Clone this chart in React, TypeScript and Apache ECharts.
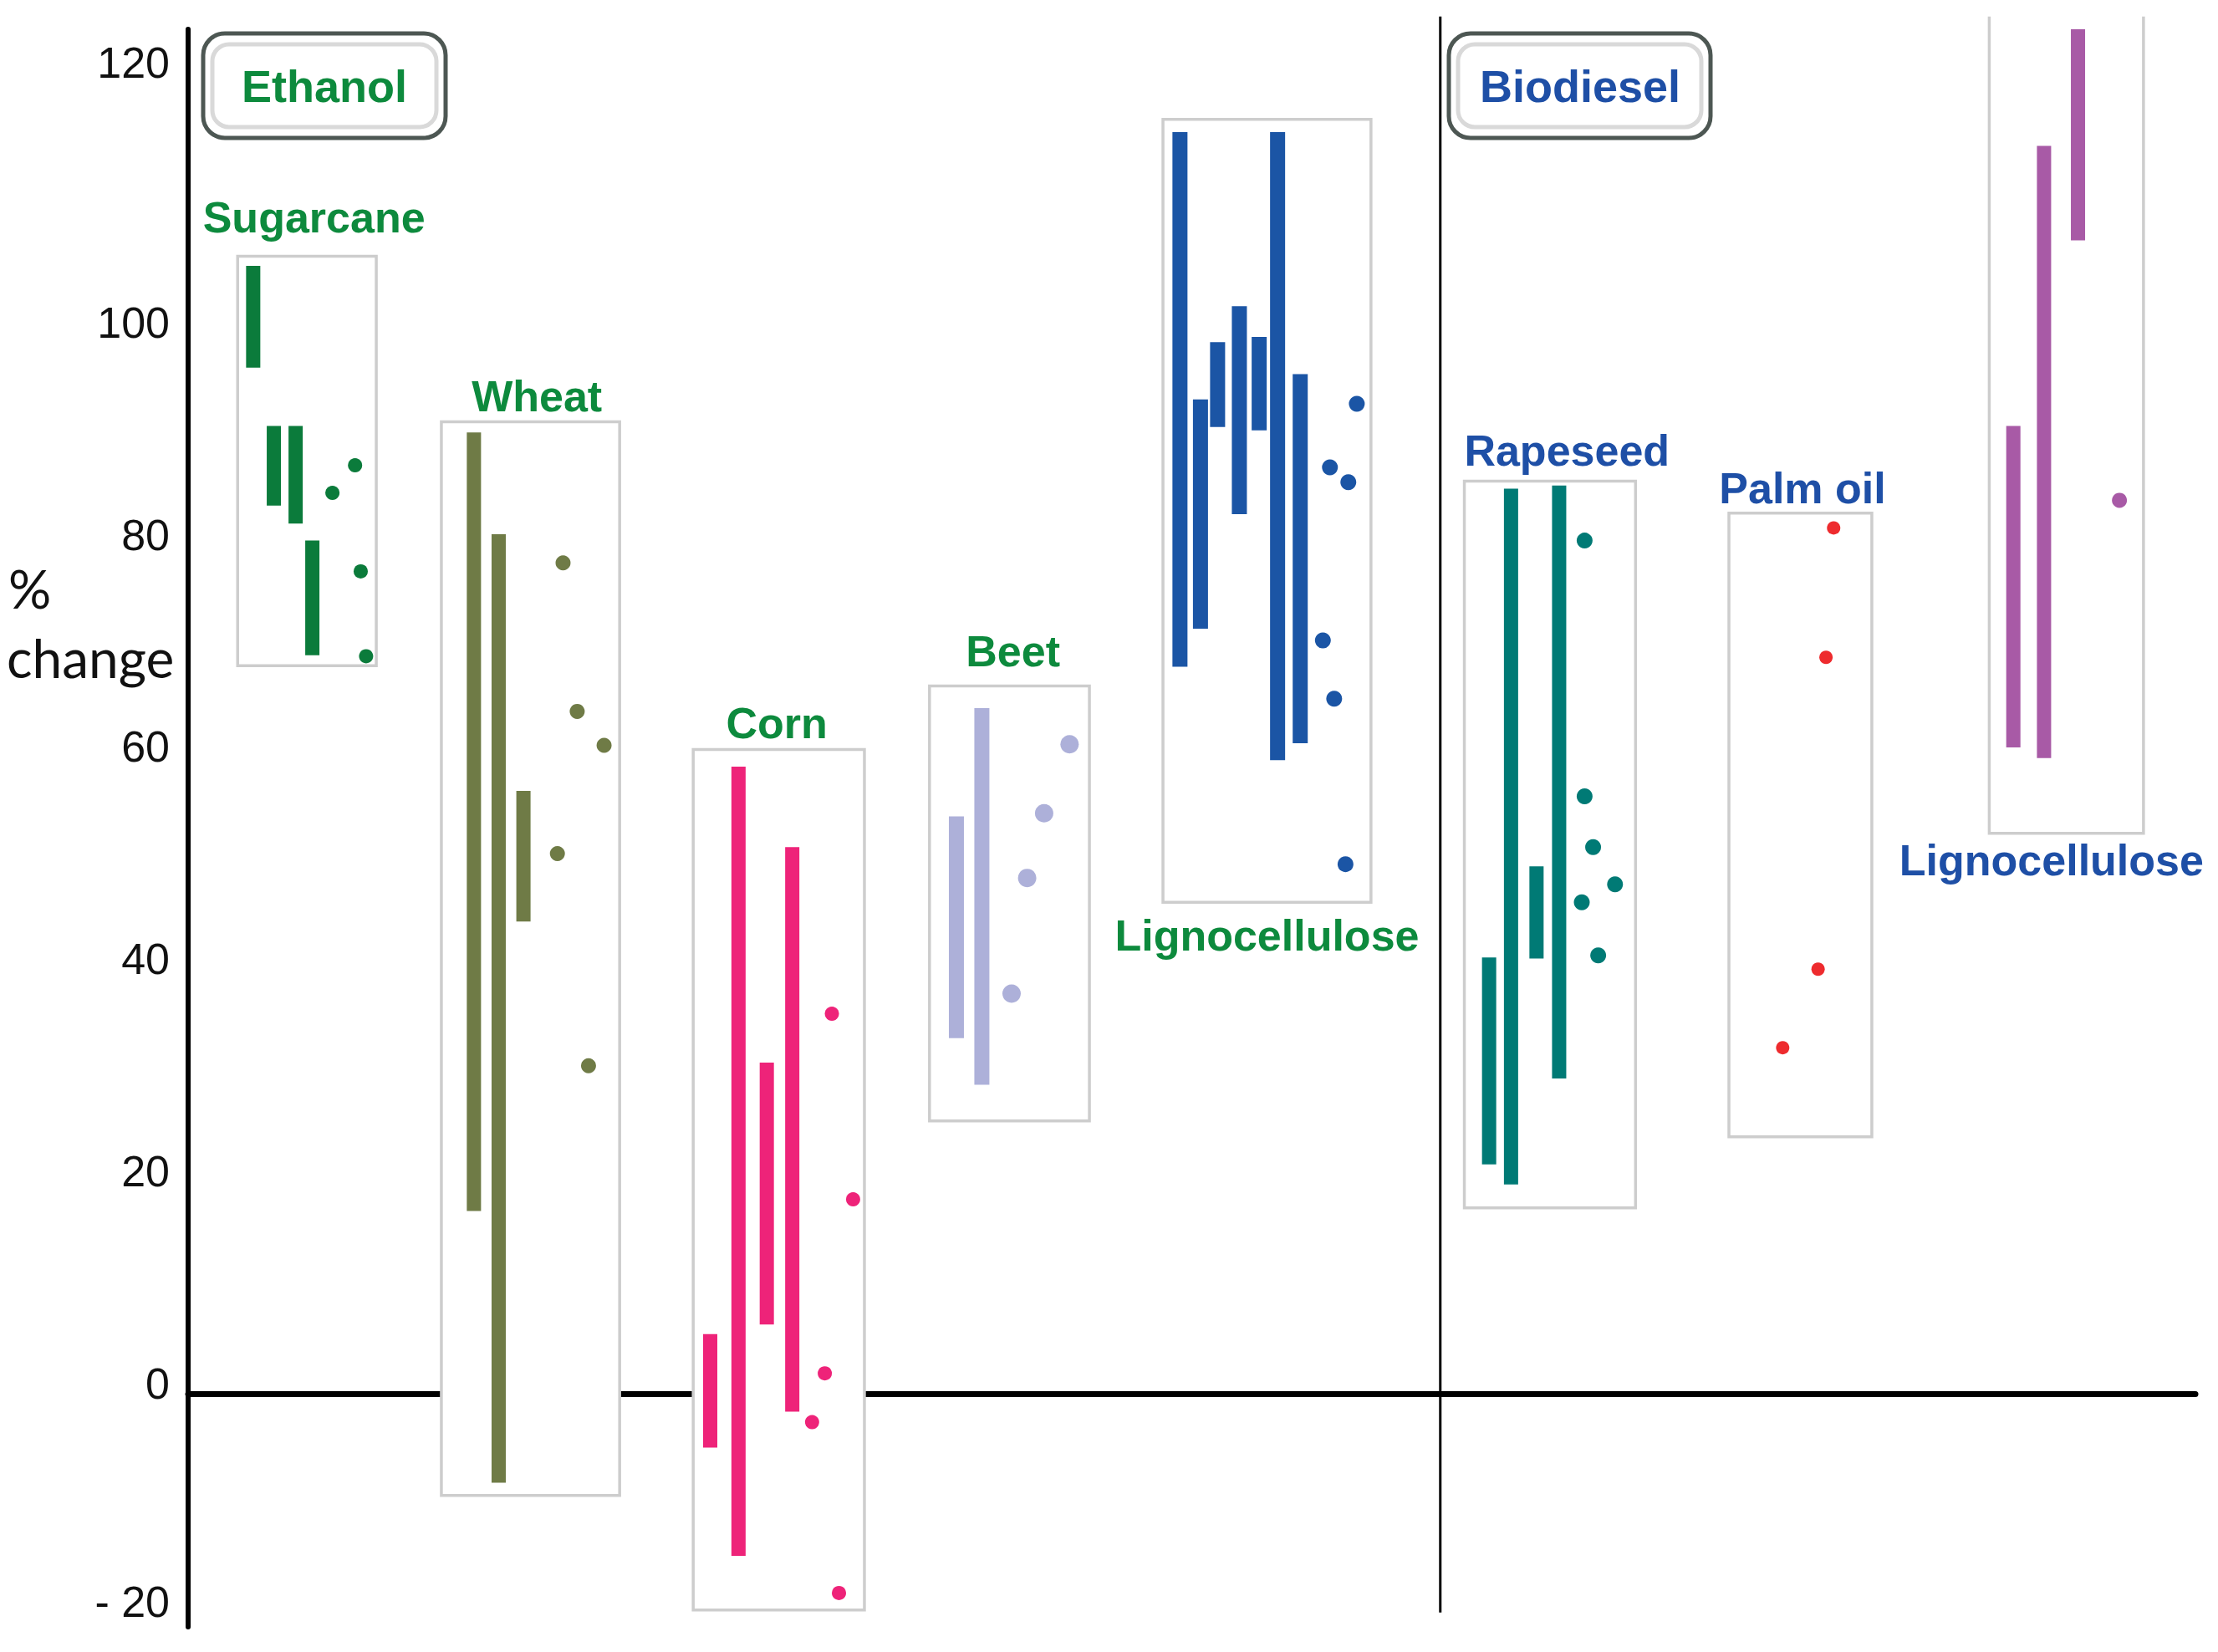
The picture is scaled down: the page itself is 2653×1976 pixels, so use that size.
import React, { useEffect, useRef } from "react";
import * as echarts from "echarts";

// ---------- data ----------
const Y_TICKS = [-20, 0, 20, 40, 60, 80, 100, 120];
const Y_TITLE = ["%", "change"];
const SECTION_TITLES = ["Ethanol", "Biodiesel"];

const GROUP_NAMES = ["Sugarcane", "Wheat", "Corn", "Beet", "Lignocellulose", "Rapeseed", "Palm oil", "Lignocellulose"];
const GROUP_FUEL = ["Ethanol", "Ethanol", "Ethanol", "Ethanol", "Ethanol", "Biodiesel", "Biodiesel", "Biodiesel"];

// ranges: [low, high] (% change)
const sugarcaneRanges = [[96.7, 106.3], [83.7, 91.2], [82, 91.2], [69.6, 80.4]];
const sugarcanePoints = [87.5, 84.9, 77.5, 69.5];

const wheatRanges = [[17.2, 90.6], [-8.4, 81], [44.5, 56.8]];
const wheatPoints = [78.3, 64.3, 61.1, 50.9, 30.9];

const cornRanges = [[-5.1, 5.6], [-15.3, 59.1], [6.5, 31.2], [-1.7, 51.5]];
const cornPoints = [35.8, 18.3, 1.9, -2.7, -18.8];

const beetRanges = [[33.5, 54.4], [29.1, 64.6]];
const beetPoints = [61.2, 54.7, 48.6, 37.7];

const lignoEthanolRanges = [[68.5, 118.9], [72.1, 93.7], [91.1, 99.1], [82.9, 102.5], [90.8, 99.6], [59.7, 118.9], [61.3, 96.1]];
const lignoEthanolPoints = [93.3, 87.3, 85.9, 71, 65.5, 49.9];

const rapeseedRanges = [[21.6, 41.1], [19.7, 85.3], [41, 49.7], [29.7, 85.6]];
const rapeseedPoints = [80.4, 56.3, 51.5, 48, 46.3, 41.3];

const palmOilRanges: number[][] = [];
const palmOilPoints = [81.6, 69.4, 40, 32.6];

const lignoBiodieselRanges = [[60.9, 91.2], [59.9, 117.6], [108.7, 128.6]];
const lignoBiodieselPoints = [84.2];

const GROUP_RANGES = [sugarcaneRanges, wheatRanges, cornRanges, beetRanges, lignoEthanolRanges, rapeseedRanges, palmOilRanges, lignoBiodieselRanges];
const GROUP_POINTS = [sugarcanePoints, wheatPoints, cornPoints, beetPoints, lignoEthanolPoints, rapeseedPoints, palmOilPoints, lignoBiodieselPoints];

// ---------- layout (x in horizontal units, y in axis units) ----------
const LAYOUT = [
  { barX: [179, 193.6, 209, 220.8], dotX: [251, 235, 255, 258.8], box: [168, 266, 68.6, 107.2], label: [222, 110.9], color: "#0B7B3B", barW: 17, dot: 17 },
  { barX: [335, 352.5, 370], dotX: [398, 408, 427, 394, 416], box: [312, 438, -9.6, 91.6], label: [379.5, 94.0], color: "#6F7B46", barW: 17, dot: 18 },
  { barX: [502, 522, 542, 560], dotX: [588, 603, 583, 574, 593], box: [490, 611, -20.4, 60.7], label: [549, 63.2], color: "#EE2379", barW: 17, dot: 17 },
  { barX: [676, 694], dotX: [756, 738, 726, 715], box: [657, 770, 25.7, 66.7], label: [716, 70], color: "#ADB0D9", barW: 18, dot: 22 },
  { barX: [834, 848.5, 860.6, 876, 890, 903, 919], dotX: [959, 940, 953, 935, 943, 951], box: [822, 969, 46.3, 120.1], label: [895.5, 43.2], color: "#1B55A5", barW: 18, dot: 19 },
  { barX: [1052.5, 1068, 1086, 1102], dotX: [1120, 1120, 1126, 1141.5, 1118, 1129.6], box: [1035, 1156, 17.5, 86], label: [1107.5, 88.9], color: "#007A75", barW: 17, dot: 19 },
  { barX: [], dotX: [1296, 1290.6, 1285, 1260], box: [1222, 1323, 24.2, 83], label: [1274, 85.3], color: "#EE2B2E", barW: 17, dot: 16 },
  { barX: [1423, 1444.7, 1468.7], dotX: [1498], box: [1406, 1515, 52.8, 129.8], label: [1450, 50.3], color: "#A85AA6", barW: 17, dot: 18 },
];
const OPEN_TOP_ABOVE = 128.6; // boxes reaching above the axis top are drawn without a top edge
const DIVIDER = [1018, -20.65, 129.8];
const LABEL_COLOR: Record<string, string> = { Ethanol: "#0D8A3D", Biodiesel: "#1E4FA6" };

const FONT_ARIAL = '"Liberation Sans", Arial, sans-serif';

export default function App() {
  const ref = useRef<HTMLDivElement>(null);
  useEffect(() => {
    if (!ref.current) return;
    const chart = echarts.init(ref.current, undefined, { renderer: "svg" });

    const boxData = LAYOUT.map((l, i) => ({
      name: GROUP_NAMES[i],
      value: [l.box[0], l.box[1], l.box[2], l.box[3], l.label[0], l.label[1], i],
    }));

    const barData: number[][] = [];
    GROUP_RANGES.forEach((ranges, g) => {
      ranges.forEach((r, k) => barData.push([LAYOUT[g].barX[k], r[0], r[1], g]));
    });

    const scatterSeries = GROUP_POINTS.map((pts, g) => ({
      type: "scatter",
      name: GROUP_NAMES[g] + " points",
      z: 5,
      clip: false,
      symbol: "circle",
      symbolSize: LAYOUT[g].dot,
      itemStyle: { color: LAYOUT[g].color, opacity: 1 },
      data: pts.map((v, k) => [LAYOUT[g].dotX[k], v]),
    }));

    const isTick = (v: number) => {
      const r = Math.round(v);
      return Math.abs(v - r) < 1e-6 && Y_TICKS.indexOf(r) >= 0;
    };

    const option: any = {
      animation: false,
      backgroundColor: "#ffffff",
      grid: { left: 225, right: 27, top: 35, bottom: 30, containLabel: false },
      xAxis: {
        type: "value",
        min: 133,
        max: 1551.7,
        axisLine: { show: true, onZero: true, lineStyle: { color: "#000", width: 7 } },
        axisTick: { show: false },
        axisLabel: { show: false },
        splitLine: { show: false },
      },
      yAxis: {
        type: "value",
        min: -22,
        max: 128.6,
        interval: 2,
        axisLine: { show: true, lineStyle: { color: "#000", width: 6 } },
        axisTick: { show: false },
        splitLine: { show: false },
        axisLabel: {
          show: true,
          interval: 0,
          margin: 22,
          color: "#111",
          fontSize: 52,
          fontFamily: FONT_ARIAL,
          showMinLabel: true,
          showMaxLabel: true,
          formatter: (v: number) => {
            if (!isTick(v)) return "";
            const r = Math.round(v);
            if (r === 120) return "{t|120}";
            if (r === -20) return "{m|- 20}";
            return "{n|" + r + "}";
          },
          rich: {
            n: { fontSize: 52, fontFamily: FONT_ARIAL, color: "#111", padding: [0, 0, 24, 0] },
            t: { fontSize: 52, fontFamily: FONT_ARIAL, color: "#111", padding: [0, 0, 138, 0] },
            m: { fontSize: 52, fontFamily: FONT_ARIAL, color: "#111", padding: [0, 0, 10, 0] },
          },
        },
      },
      graphic: [
        { type: "text", x: 10, y: 703, z: 20, style: { text: Y_TITLE[0], fill: "#111", font: '64px Lato, "Noto Sans", sans-serif', align: "left", verticalAlign: "middle" } },
        { type: "text", x: 8, y: 786, z: 20, style: { text: Y_TITLE[1], fill: "#111", font: '64px Lato, "Noto Sans", sans-serif', align: "left", verticalAlign: "middle" } },
        // Ethanol header
        { type: "rect", z: 20, shape: { x: 243, y: 40, width: 290, height: 125, r: 26 }, style: { fill: "#fff", stroke: "#4d5753", lineWidth: 5 } },
        { type: "rect", z: 21, shape: { x: 254, y: 53, width: 268, height: 99, r: 20 }, style: { fill: "none", stroke: "#d9d9d9", lineWidth: 5 } },
        { type: "text", x: 388, y: 103, z: 22, style: { text: SECTION_TITLES[0], fill: LABEL_COLOR.Ethanol, font: "bold 54px " + FONT_ARIAL, align: "center", verticalAlign: "middle" } },
        // Biodiesel header
        { type: "rect", z: 20, shape: { x: 1733, y: 40, width: 313, height: 125, r: 26 }, style: { fill: "#fff", stroke: "#4d5753", lineWidth: 5 } },
        { type: "rect", z: 21, shape: { x: 1744, y: 53, width: 291, height: 99, r: 20 }, style: { fill: "none", stroke: "#d9d9d9", lineWidth: 5 } },
        { type: "text", x: 1890, y: 103, z: 22, style: { text: SECTION_TITLES[1], fill: LABEL_COLOR.Biodiesel, font: "bold 54px " + FONT_ARIAL, align: "center", verticalAlign: "middle" } },
      ],
      series: [
        {
          type: "custom",
          name: "divider",
          z: 2,
          clip: false,
          silent: true,
          data: [DIVIDER],
          renderItem: (params: any, api: any) => {
            const p1 = api.coord([api.value(0), api.value(1)]);
            const p2 = api.coord([api.value(0), api.value(2)]);
            return { type: "line", shape: { x1: p1[0], y1: p1[1], x2: p2[0], y2: p2[1] }, style: { stroke: "#000", lineWidth: 3 } };
          },
        },
        {
          type: "custom",
          name: "groups",
          z: 3,
          clip: false,
          silent: true,
          data: boxData,
          renderItem: (params: any, api: any) => {
            const i = api.value(6);
            const top = api.value(3);
            const tl = api.coord([api.value(0), top]);
            const br = api.coord([api.value(1), api.value(2)]);
            const lp = api.coord([api.value(4), api.value(5)]);
            const stroke = { stroke: "#cdcdcd", lineWidth: 3.5 };
            const frame =
              top > OPEN_TOP_ABOVE
                ? [
                    { type: "rect", shape: { x: tl[0], y: tl[1], width: br[0] - tl[0], height: br[1] - tl[1] }, style: { fill: "#fff" } },
                    { type: "polyline", shape: { points: [[tl[0], tl[1]], [tl[0], br[1]], [br[0], br[1]], [br[0], tl[1]]] }, style: { fill: "none", ...stroke } },
                  ]
                : [{ type: "rect", shape: { x: tl[0], y: tl[1], width: br[0] - tl[0], height: br[1] - tl[1] }, style: { fill: "#fff", ...stroke } }];
            return {
              type: "group",
              children: [
                ...frame,
                { type: "text", x: lp[0], y: lp[1], style: { text: GROUP_NAMES[i], fill: LABEL_COLOR[GROUP_FUEL[i]], font: "bold 52px " + FONT_ARIAL, align: "center", verticalAlign: "middle" } },
              ],
            };
          },
        },
        {
          type: "custom",
          name: "ranges",
          z: 4,
          clip: false,
          data: barData,
          renderItem: (params: any, api: any) => {
            const g = api.value(3);
            const hi = api.coord([api.value(0), api.value(2)]);
            const lo = api.coord([api.value(0), api.value(1)]);
            const w = LAYOUT[g].barW;
            return { type: "rect", shape: { x: hi[0] - w / 2, y: hi[1], width: w, height: lo[1] - hi[1] }, style: { fill: LAYOUT[g].color } };
          },
        },
        ...scatterSeries,
      ],
    };
    chart.setOption(option);
    return () => chart.dispose();
  }, []);
  return <div ref={ref} style={{ position: "fixed", left: 0, top: 0, width: 2653, height: 1976, background: "#fff" }} />;
}
